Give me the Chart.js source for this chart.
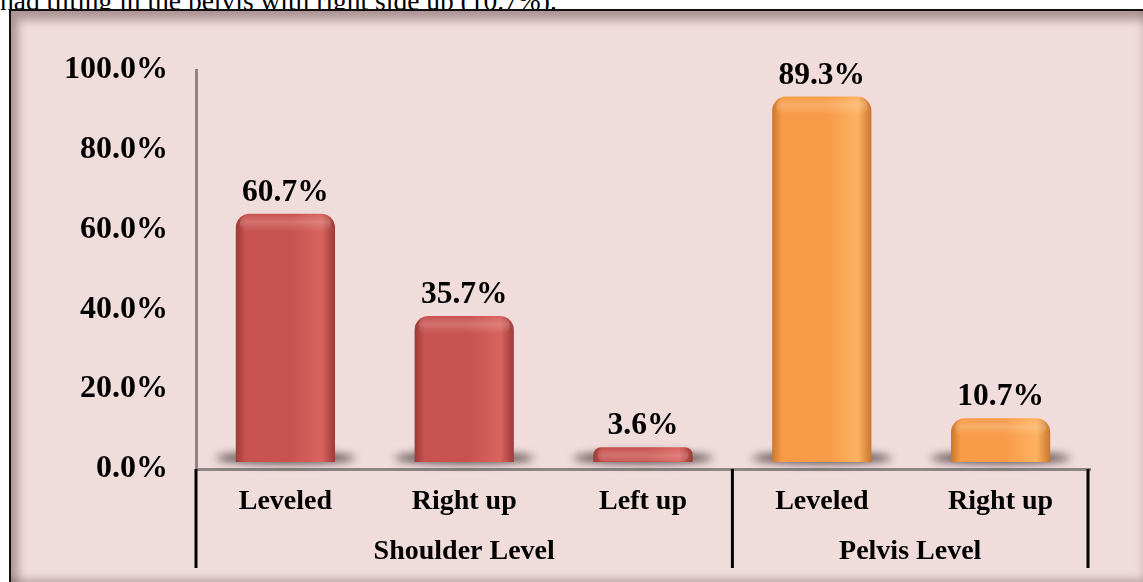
<!DOCTYPE html>
<html>
<head>
<meta charset="utf-8">
<script src="https://cdn.jsdelivr.net/npm/chart.js@4.4.0/dist/chart.umd.min.js"></script>
<style>
    body { margin: 0; width: 1143px; height: 582px; background: #fff; overflow: hidden; position: relative; font-family: "Liberation Serif", "Times New Roman", serif; }
    #lead { position: absolute; left: 0; top: -11px; font-size: 27.5px; line-height: 24px; white-space: nowrap; color: #000; }
    #frame { position: absolute; left: 9px; top: 9px; width: 1140px; height: 575px; background: #f1dcdc; border-left: 2px solid #111; border-top: 2px solid #111;
             box-shadow: inset 7px 9px 10px rgba(95, 65, 65, 0.45), inset -7px -7px 9px rgba(95, 65, 65, 0.35); }
    #chart { position: absolute; left: 0; top: 0; }
</style>
</head>
<body>
<div id="lead">had tilting in the pelvis with right side up (10.7%).</div>
<div id="frame"></div>
<canvas id="chart" width="1143" height="582"></canvas>
<script>
// --- Data ---
const categories = ['Leveled', 'Right up', 'Left up', 'Leveled', 'Right up'];
const groups = ['Shoulder Level', 'Pelvis Level'];
const groupSizes = [3, 2];
const values = [60.7, 35.7, 3.6, 89.3, 10.7];
const barGroup = [0, 0, 0, 1, 1];
const yTicks = [0, 20, 40, 60, 80, 100];

// --- Styles ---
const FONT = '"Liberation Serif", "Times New Roman", serif';
const palette = [
    { dark: '#9a3937', main: '#c8524f', light: '#d9645f' },
    { dark: '#c8752a', main: '#f79b47', light: '#fdb262' }
];

function barFill(ctx) {
    const chart = ctx.chart;
    const col = palette[barGroup[ctx.dataIndex]];
    if (!chart.chartArea || !chart.scales.x) return col.main;
    const cx = chart.scales.x.getPixelForValue(ctx.dataIndex);
    const half = 50;
    const g = chart.ctx.createLinearGradient(cx - half, 0, cx + half, 0);
    g.addColorStop(0, col.dark);
    g.addColorStop(0.1, col.main);
    g.addColorStop(0.55, col.main);
    g.addColorStop(0.86, col.light);
    g.addColorStop(1, col.dark);
    return g;
}

// shadow under each bar
const baseShadow = {
    id: 'baseShadow',
    beforeDatasetsDraw(chart) {
        const c = chart.ctx;
        const base = chart.scales.yBar.getPixelForValue(0);
        chart.getDatasetMeta(0).data.forEach(bar => {
            c.save();
            c.filter = 'blur(4px)';
            c.fillStyle = 'rgba(55, 45, 45, 0.8)';
            c.beginPath();
            c.ellipse(bar.x, base - 4, 70, 6, 0, 0, Math.PI * 2);
            c.fill();
            c.restore();
        });
    }
};

// value labels + top sheen
const valueLabels = {
    id: 'valueLabels',
    afterDatasetsDraw(chart) {
        const c = chart.ctx;
        chart.getDatasetMeta(0).data.forEach((bar, i) => {
            const w = bar.width;
            c.save();
            const g = c.createLinearGradient(0, bar.y, 0, bar.y + 18);
            g.addColorStop(0, 'rgba(255,255,255,0.0)');
            g.addColorStop(0.45, 'rgba(255,255,255,0.18)');
            g.addColorStop(1, 'rgba(255,255,255,0)');
            c.fillStyle = g;
            c.beginPath();
            c.roundRect(bar.x - w / 2 + 4, bar.y + 1, w - 8, Math.min(18, bar.base - bar.y - 2), 10);
            c.fill();
            c.restore();

            c.save();
            c.font = 'bold 31.5px ' + FONT;
            c.fillStyle = '#000';
            c.textAlign = 'center';
            c.textBaseline = 'alphabetic';
            c.fillText(values[i].toFixed(1) + '%', bar.x, bar.y - 13);
            c.restore();
        });
    }
};

// multi-level category axis: separators and group names
const groupAxis = {
    id: 'groupAxis',
    afterDraw(chart) {
        const c = chart.ctx;
        const x = chart.scales.x;
        const top = chart.chartArea.bottom;
        const bottom = top + 99;
        const edges = [x.left];
        let idx = 0;
        groupSizes.forEach(n => {
            idx += n;
            edges.push(idx < categories.length
                ? (x.getPixelForValue(idx - 1) + x.getPixelForValue(idx)) / 2
                : x.right - 2);
        });
        c.save();
        c.strokeStyle = '#000';
        c.lineWidth = 3;
        edges.forEach(ex => {
            c.beginPath();
            c.moveTo(ex, top);
            c.lineTo(ex, bottom);
            c.stroke();
        });
        c.font = 'bold 28px ' + FONT;
        c.fillStyle = '#000';
        c.textAlign = 'center';
        c.textBaseline = 'middle';
        groups.forEach((name, gi) => {
            c.fillText(name, (edges[gi] + edges[gi + 1]) / 2, top + 83);
        });
        c.restore();
    }
};

new Chart(document.getElementById('chart'), {
    type: 'bar',
    data: {
        labels: categories,
        datasets: [{
            data: values,
            yAxisID: 'yBar',
            backgroundColor: barFill,
            borderWidth: 0,
            borderSkipped: 'bottom',
            borderRadius: { topLeft: 14, topRight: 14, bottomLeft: 3, bottomRight: 3 },
            barPercentage: 1,
            categoryPercentage: 0.555
        }]
    },
    options: {
        responsive: false,
        devicePixelRatio: 1,
        animation: false,
        layout: { padding: { left: 0, top: 70, right: 53, bottom: 0 } },
        plugins: { legend: { display: false }, tooltip: { enabled: false } },
        scales: {
            x: {
                grid: { display: false, drawTicks: false },
                border: { display: true, color: '#8d8585', width: 3 },
                ticks: { color: '#000', font: { family: FONT, size: 28, weight: 'bold' }, padding: 16, maxRotation: 0 },
                afterFit: s => { s.height = 113; }
            },
            y: {
                min: 0, max: 100,
                afterBuildTicks: s => { s.ticks = yTicks.map(v => ({ value: v })); },
                grid: { display: false, drawTicks: false },
                border: { display: true, color: '#8d8585', width: 3 },
                ticks: { color: '#000', font: { family: FONT, size: 32, weight: 'bold' }, padding: 28,
                         callback: v => v.toFixed(1) + '%' },
                afterFit: s => { s.width = 196; }
            },
            yBar: {
                display: false,
                min: -1.7, max: 95.8
            }
        }
    },
    plugins: [baseShadow, valueLabels, groupAxis]
});
</script>
</body>
</html>
